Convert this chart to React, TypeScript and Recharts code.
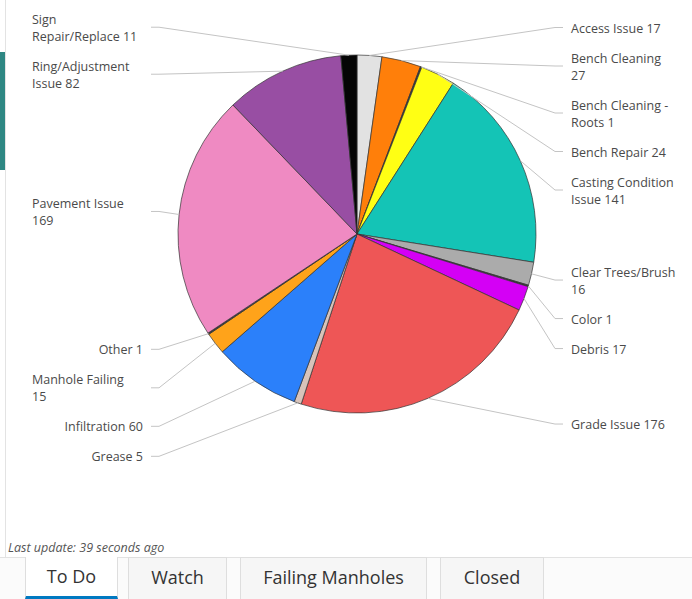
import React from "react";
import { PieChart, Pie, Cell } from "recharts";

const categories = [
  "Access Issue",
  "Bench Cleaning",
  "Bench Cleaning - Roots",
  "Bench Repair",
  "Casting Condition Issue",
  "Clear Trees/Brush",
  "Color",
  "Debris",
  "Grade Issue",
  "Grease",
  "Infiltration",
  "Manhole Failing",
  "Other",
  "Pavement Issue",
  "Ring/Adjustment Issue",
  "Sign Repair/Replace",
];

const counts = [17, 27, 1, 24, 141, 16, 1, 17, 176, 5, 60, 15, 1, 169, 82, 11];

const sliceColors = [
  "#e2e2e2",
  "#ff7f0a",
  "#3a3a3a",
  "#ffff14",
  "#14c4b6",
  "#ababab",
  "#3a3a3a",
  "#d400f5",
  "#ee5656",
  "#d8c3ba",
  "#2b80fa",
  "#ffa31a",
  "#3a3a3a",
  "#ef8ac2",
  "#984ea3",
  "#050505",
];

const tabs = ["To Do", "Watch", "Failing Manholes", "Closed"];

const data = categories.map((name, i) => ({ name, value: counts[i] }));

const CX = 357;
const CY = 234;
const R = 179;
const LABEL_R = R + 28;
const LABEL_DX = 214;
const BOX_W = 111; // label box width (left labels that wrap start at its left edge)
const WRAP_W = 106; // measured-text limit before a label wraps
const LINE_H = 17;
const GAP = 13;
const FONT_SIZE = 12.5;
const FONT = "'Open Sans', Lato, sans-serif";
const RAD = Math.PI / 180;

let ctx: CanvasRenderingContext2D | null = null;
function textWidth(s: string) {
  if (!ctx) ctx = document.createElement("canvas").getContext("2d");
  if (!ctx) return s.length * 6.5;
  ctx.font = `${FONT_SIZE}px 'Open Sans'`;
  return ctx.measureText(s).width;
}

function wrap(s: string) {
  const words = s.split(" ");
  const lines: string[] = [];
  let cur = "";
  for (const w of words) {
    const next = cur ? cur + " " + w : w;
    if (cur && textWidth(next) > WRAP_W) {
      lines.push(cur);
      cur = w;
    } else cur = next;
  }
  if (cur) lines.push(cur);
  return lines;
}

interface LabelInfo {
  lines: string[];
  y: number;
  right: boolean;
}

// place labels on each side, pushing them down so they don't overlap
function layoutLabels(): LabelInfo[] {
  const total = counts.reduce((a, b) => a + b, 0);
  let cum = 0;
  const infos = counts.map((v, i) => {
    const mid = 90 - ((cum + v / 2) / total) * 360;
    cum += v;
    const right = Math.cos(mid * RAD) >= 0;
    return {
      lines: wrap(`${categories[i]} ${v}`),
      y: CY - LABEL_R * Math.sin(mid * RAD),
      right,
    };
  });
  [true, false].forEach((side) => {
    const list = infos.filter((d) => d.right === side).sort((a, b) => a.y - b.y);
    for (let k = 1; k < list.length; k++) {
      const prev = list[k - 1];
      const cur = list[k];
      const minGap = (prev.lines.length * LINE_H) / 2 + (cur.lines.length * LINE_H) / 2 + GAP;
      if (cur.y < prev.y + minGap) cur.y = prev.y + minGap;
    }
  });
  return infos;
}

const labelInfo = layoutLabels();

function renderLabel(props: any) {
  const { cx, cy, midAngle, outerRadius, index } = props;
  const info = labelInfo[index];
  if (!info) return null;
  const sx = cx + Math.cos(-midAngle * RAD) * outerRadius;
  const sy = cy + Math.sin(-midAngle * RAD) * outerRadius;
  const dir = info.right ? 1 : -1;
  const ex1 = cx + dir * 198;
  const ex2 = cx + dir * 206;
  const multi = info.lines.length > 1;
  const tx = info.right ? cx + LABEL_DX : multi ? cx - LABEL_DX - BOX_W : cx - LABEL_DX;
  const anchor = info.right || multi ? "start" : "end";
  const top = info.y - ((info.lines.length - 1) * LINE_H) / 2;
  return (
    <g key={`lbl-${index}`}>
      <path
        d={`M${sx},${sy}L${ex1},${info.y}L${ex2},${info.y}`}
        stroke="#c4c4c4"
        strokeWidth={1}
        fill="none"
      />
      <text
        x={tx}
        y={top}
        textAnchor={anchor}
        fill="#4a4a4a"
        fontSize={FONT_SIZE}
        fontFamily={FONT}
        dominantBaseline="central"
      >
        {info.lines.map((l, i) => (
          <tspan key={i} x={tx} dy={i === 0 ? 0 : LINE_H}>
            {l}
          </tspan>
        ))}
      </text>
    </g>
  );
}

const tabBoxes = [
  { left: 25, width: 93 },
  { left: 128, width: 99 },
  { left: 240, width: 187 },
  { left: 440, width: 104 },
];

export default function App() {
  return (
    <div
      style={{
        position: "relative",
        width: 692,
        height: 599,
        background: "#fff",
        overflow: "hidden",
        fontFamily: FONT,
      }}
    >
      <style>{`body{margin:0}`}</style>
      <div style={{ position: "absolute", left: 5, top: 0, width: 1, height: 557, background: "#e3e3e3" }} />
      <div style={{ position: "absolute", left: 0, top: 52, width: 5, height: 118, background: "#2e8783" }} />

      <div style={{ position: "absolute", left: 0, top: 0 }}>
        <PieChart width={692} height={540} margin={{ top: 0, right: 0, bottom: 0, left: 0 }}>
          <Pie
            data={data}
            dataKey="value"
            nameKey="name"
            cx={CX}
            cy={CY}
            outerRadius={R}
            startAngle={90}
            endAngle={-270}
            stroke="#333"
            strokeWidth={0.7}
            label={renderLabel}
            labelLine={false}
            isAnimationActive={false}
          >
            {data.map((d, i) => (
              <Cell key={d.name} fill={sliceColors[i]} />
            ))}
          </Pie>
        </PieChart>
      </div>

      <div
        style={{
          position: "absolute",
          left: 8,
          top: 539,
          fontSize: 12.5,
          fontStyle: "italic",
          color: "#555",
        }}
      >
        Last update: 39 seconds ago
      </div>

      {/* tab strip */}
      <div style={{ position: "absolute", left: 0, top: 557, width: 692, height: 42, background: "#fbfbfb", borderTop: "1px solid #e2e2e2" }} />
      {tabs.map((t, i) => {
        const active = i === 0;
        return (
          <div
            key={t}
            style={{
              position: "absolute",
              left: tabBoxes[i].left,
              top: 557,
              width: tabBoxes[i].width,
              height: 42,
              boxSizing: "border-box",
              background: active ? "#fff" : "#f6f6f6",
              border: "1px solid #dedede",
              borderBottom: active ? "3px solid #0079c1" : "none",
              borderTop: active ? "none" : "1px solid #dedede",
              textAlign: "center",
              fontSize: 18,
              color: "#333",
              lineHeight: "38px",
            }}
          >
            {t}
          </div>
        );
      })}
    </div>
  );
}
